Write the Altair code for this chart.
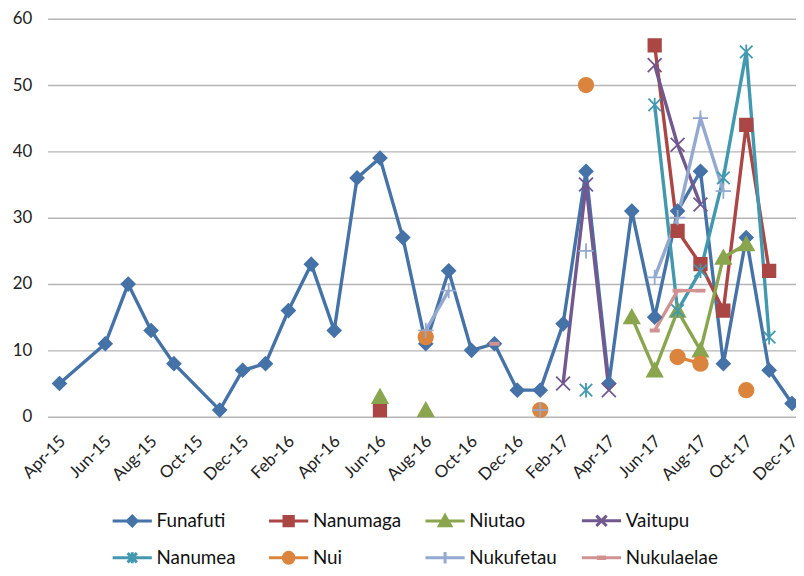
import re
import altair as alt
import pandas as pd

# ---------------- data ----------------
row_months = ["Apr-15", "Jun-15", "Jul-15", "Aug-15", "Sep-15", "Nov-15", "Dec-15",
              "Jan-16", "Feb-16", "Mar-16", "Apr-16", "May-16", "Jun-16", "Jul-16",
              "Aug-16", "Sep-16", "Oct-16", "Nov-16", "Dec-16", "Jan-17", "Feb-17",
              "Mar-17", "Apr-17", "May-17", "Jun-17", "Jul-17", "Aug-17", "Sep-17",
              "Oct-17", "Nov-17", "Dec-17"]

tick_labels = ["Apr-15", "Jun-15", "Aug-15", "Oct-15", "Dec-15", "Feb-16", "Apr-16",
               "Jun-16", "Aug-16", "Oct-16", "Dec-16", "Feb-17", "Apr-17", "Jun-17",
               "Aug-17", "Oct-17", "Dec-17"]

N = None
funafuti   = [5, 11, 20, 13, 8, 1, 7, 8, 16, 23, 13, 36, 39, 27, 11, 22, 10, 11, 4, 4, 14, 37, 5, 31, 15, 31, 37, 8, 27, 7, 2]
nanumaga   = [N, N, N, N, N, N, N, N, N, N, N, N, 1, N, N, N, N, N, N, N, N, N, N, N, 56, 28, 23, 16, 44, 22, N]
niutao     = [N, N, N, N, N, N, N, N, N, N, N, N, 3, N, 1, N, N, N, N, N, N, N, N, 15, 7, 16, 10, 24, 26, N, N]
vaitupu    = [N, N, N, N, N, N, N, N, N, N, N, N, N, N, N, N, N, N, N, N, 5, 35, 4, N, 53, 41, 32, N, N, N, N]
nanumea    = [N, N, N, N, N, N, N, N, N, N, N, N, N, N, N, N, N, N, N, N, N, 4, N, N, 47, 16, 22, 36, 55, 12, N]
nui        = [N, N, N, N, N, N, N, N, N, N, N, N, N, N, 12, N, N, N, N, 1, N, 50, N, N, N, 9, 8, N, 4, N, N]
nukufetau  = [N, N, N, N, N, N, N, N, N, N, N, N, N, N, 13, 19, N, N, N, 1, N, 25, N, N, 21, 30, 45, 34, N, N, N]
nukulaelae = [N, N, N, N, N, N, N, N, N, N, N, N, N, N, N, N, N, 11, N, N, N, N, N, N, 13, 19, 19, N, N, N, N]

series_names = ["Funafuti", "Nanumaga", "Niutao", "Vaitupu",
                "Nanumea", "Nui", "Nukufetau", "Nukulaelae"]
series_values = [funafuti, nanumaga, niutao, vaitupu,
                 nanumea, nui, nukufetau, nukulaelae]
colors = ["#4572A7", "#AA4643", "#89A54E", "#71588F",
          "#4198AF", "#DB843D", "#93A9CF", "#D19392"]

# ---------------- build table ----------------
MON = {"Jan": 1, "Feb": 2, "Mar": 3, "Apr": 4, "May": 5, "Jun": 6,
       "Jul": 7, "Aug": 8, "Sep": 9, "Oct": 10, "Nov": 11, "Dec": 12}


def month_index(lbl):
    m, y = lbl.split("-")
    return (int(y) - 15) * 12 + MON[m] - 4


rows = []
for name, vals in zip(series_names, series_values):
    run = 0
    prev = False
    for lbl, v in zip(row_months, vals):
        if v is None:
            if prev:
                run += 1
            prev = False
            continue
        prev = True
        rows.append({"series": name, "m": month_index(lbl), "value": v,
                     "seg": f"{name}-{run}"})
df = pd.DataFrame(rows)

# ---------------- marker shapes ----------------
circle = ("M1.05,0C1.05,0.58,0.58,1.05,0,1.05C-0.58,1.05,-1.05,0.58,-1.05,0"
          "C-1.05,-0.58,-0.58,-1.05,0,-1.05C0.58,-1.05,1.05,-0.58,1.05,0Z")
marker_paths = [
    "M0,-0.95L0.95,0L0,0.95L-0.95,0Z",                      # diamond
    "M-0.9,-0.9L0.9,-0.9L0.9,0.9L-0.9,0.9Z",                 # square
    "M0,-1.05L1.1,0.9L-1.1,0.9Z",                            # triangle
    "M-1,-1L1,1M-1,1L1,-1",                                  # x
    "M-0.9,-0.9L0.9,0.9M-0.9,0.9L0.9,-0.9M0,-1.05L0,1.05",   # asterisk
    circle,                                                  # circle
    "M-1.1,0L1.1,0M0,-1.1L0,1.1",                            # plus
    "M-0.6,-0.15L0.6,-0.15L0.6,0.15L-0.6,0.15Z",             # dash
]


def scale_path(p, k):
    return re.sub(r"-?\d+(?:\.\d+)?", lambda mo: f"{float(mo.group()) * k:.3f}", p)


legend_paths = ["M-1.1,0L1.1,0" + scale_path(p, 0.29) for p in marker_paths]

grid_color = "#b5b5b5"
font = "Lato"

xmin = -12 / 23.125
xmax = 32 + 4 / 23.125
label_expr = "[" + ",".join(f"'{t}'" for t in tick_labels) + "][round(datum.value / 2)]"

x = alt.X("m:Q", title=None,
          scale=alt.Scale(domain=[xmin, xmax], nice=False, zero=False),
          axis=alt.Axis(values=list(range(0, 33, 2)), labelExpr=label_expr,
                        grid=False, ticks=False, domain=False,
                        labelAngle=-45, labelAlign="right", labelBaseline="middle",
                        labelPadding=22, labelOffset=3, labelOverlap=False, labelFont=font,
                        labelFontSize=17, labelColor="#222222"))
y = alt.Y("value:Q", title=None,
          scale=alt.Scale(domain=[0, 60], nice=False),
          axis=alt.Axis(values=list(range(0, 61, 10)), grid=True, gridColor=grid_color,
                        gridWidth=1.4, ticks=False, domain=False, labelPadding=16,
                        labelFont=font, labelFontSize=17, labelColor="#222222"))


def cscale():
    return alt.Scale(domain=series_names, range=colors)


lines = alt.Chart(df).mark_line(strokeWidth=3.4).encode(
    x=x, y=y,
    color=alt.Color("series:N", scale=cscale(), legend=None),
    detail="seg:N",
)

points = alt.Chart(df).mark_point(filled=True, size=196, strokeWidth=1.8, opacity=1).encode(
    x=x, y=y,
    color=alt.Color("series:N", scale=cscale(), legend=None),
    stroke=alt.Stroke("series:N", scale=cscale(), legend=None),
    shape=alt.Shape("series:N", scale=alt.Scale(domain=series_names, range=marker_paths),
                    legend=None),
)

leg = alt.Legend(title=None, orient="none", legendX=66, legendY=487, columns=4,
                 direction="horizontal",
                 columnPadding=13, rowPadding=6, gridAlign="all", padding=0,
                 symbolSize=1296, symbolStrokeWidth=3, symbolOpacity=1,
                 labelOffset=5, labelFont=font, labelFontSize=19, labelColor="#111111",
                 labelLimit=300)

legend_layer = alt.Chart(df).transform_filter("false").mark_point(
    filled=True, size=1296, strokeWidth=3, opacity=1).encode(
    x=x, y=y,
    color=alt.Color("series:N", scale=cscale(), legend=leg),
    stroke=alt.Stroke("series:N", scale=cscale(), legend=leg),
    shape=alt.Shape("series:N", scale=alt.Scale(domain=series_names, range=legend_paths),
                    legend=leg),
)

chart = alt.layer(lines, points, legend_layer).resolve_scale(
    color="independent", stroke="independent", shape="independent"
).properties(
    width=756, height=402,
    padding={"left": 40, "top": 8, "right": 0, "bottom": 150},
    autosize=alt.AutoSizeParams(type="none"),
    background="white",
).configure_view(stroke=None)

chart.save("out.html", embed_options={"renderer": "svg", "actions": False})
